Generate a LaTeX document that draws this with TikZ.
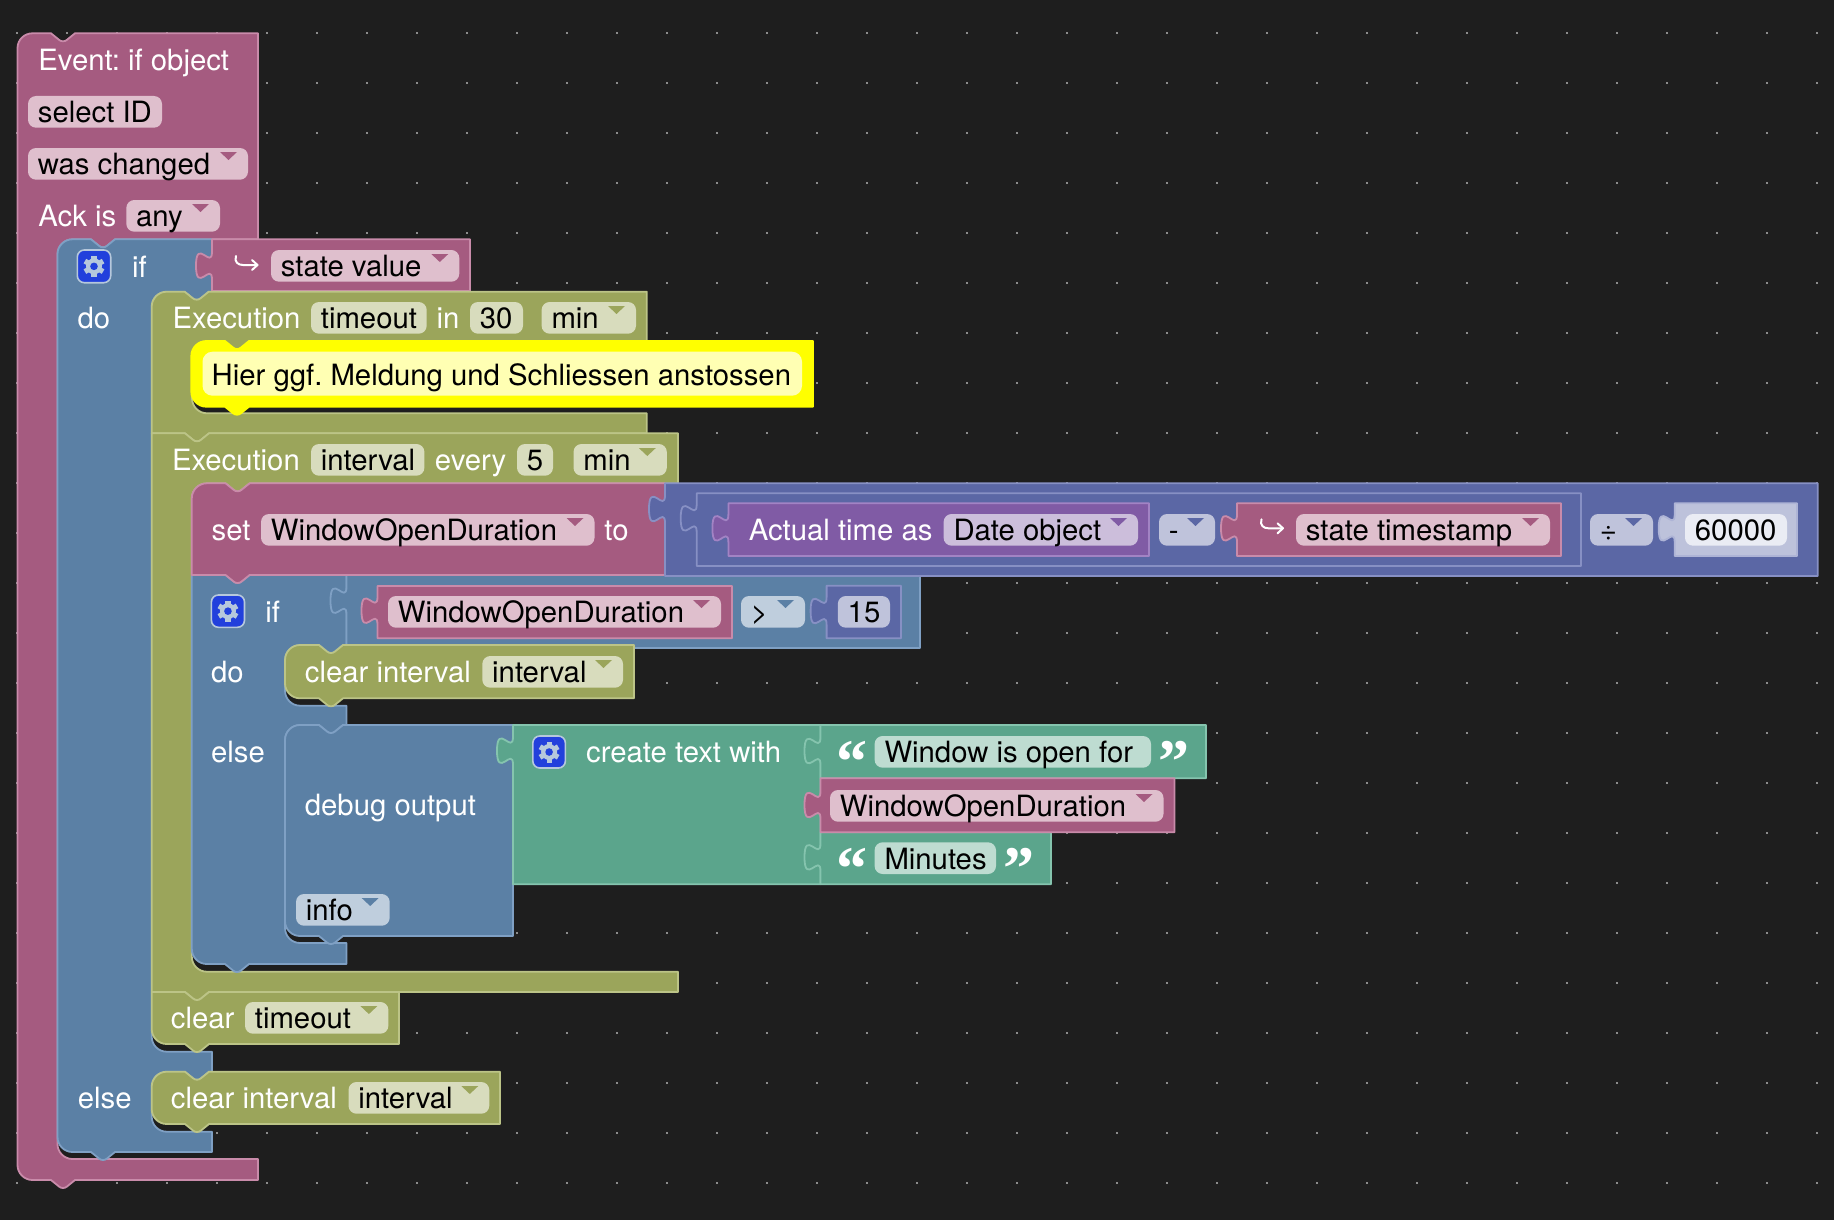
\documentclass[tikz,border=0pt]{standalone}
\usepackage{fontspec}
\setmainfont{TeX Gyre Heros}
\newfontfamily\quotefont{Liberation Serif}
\definecolor{bg}{HTML}{1E1E1E}
\definecolor{dotc}{HTML}{8C8C8C}
\definecolor{pinkf}{HTML}{A55B80}
\definecolor{pinkb}{HTML}{C98BAA}
\definecolor{bluef}{HTML}{5B80A5}
\definecolor{blueb}{HTML}{7FA0C4}
\definecolor{olivef}{HTML}{9BA55B}
\definecolor{oliveb}{HTML}{BCC487}
\definecolor{purpf}{HTML}{805BA5}
\definecolor{purpb}{HTML}{A283C4}
\definecolor{indf}{HTML}{5B67A5}
\definecolor{indb}{HTML}{8790C4}
\definecolor{greenf}{HTML}{5BA58C}
\definecolor{greenb}{HTML}{85C4AE}
\definecolor{pinkl}{HTML}{DFBFCD}
\definecolor{olivel}{HTML}{D8DCBD}
\definecolor{bluel}{HTML}{BFCEDD}
\definecolor{purpl}{HTML}{CCBEDB}
\definecolor{indl}{HTML}{BFC3DB}
\definecolor{greenl}{HTML}{BEDCD1}
\definecolor{numf}{HTML}{BDC2DB}
\definecolor{numb}{HTML}{AEB4D6}
\definecolor{numl}{HTML}{EAECF4}
\definecolor{yel}{HTML}{FFFF00}
\definecolor{yell}{HTML}{FFFFB3}
\definecolor{mutf}{HTML}{2240DC}
\definecolor{mutg}{HTML}{B6C8DC}
\tikzset{
  blk/.style={line width=0.9pt,line join=round},
  blkpink/.style={blk,fill=pinkf,draw=pinkb},
  blkblue/.style={blk,fill=bluef,draw=blueb},
  blkolive/.style={blk,fill=olivef,draw=oliveb},
  blkpurp/.style={blk,fill=purpf,draw=purpb},
  blkind/.style={blk,fill=indf,draw=indb},
  blkgreen/.style={blk,fill=greenf,draw=greenb},
  blknum/.style={blk,fill=numf,draw=numb},
  blkyel/.style={line width=0.9pt,line join=round,fill=yel,draw=yel},
  lbl/.style={anchor=base west,inner sep=0pt,text=white,xshift=-0.5pt,yshift=-0.5pt,font=\frenchspacing\fontsize{14.65}{17}\selectfont},
  fldtxt/.style={lbl,text=black},
  qmark/.style={inner sep=0pt,text=white,font=\quotefont\bfseries\fontsize{31}{31}\selectfont},
  mutbox/.style={fill=mutf,draw=mutg,line width=0.8pt,rounded corners=3.5pt},
  icon/.style={draw=white,line width=1pt,line cap=round,line join=round}
}
% path pieces
\newcommand\crn[6]{-- (#1,#2) .. controls ({#1+.55*(#3-#1)},{#2+.55*(#4-#2)}) and ({#5+.55*(#3-#5)},{#6+.55*(#4-#6)}) .. (#5,#6)}
\newcommand\ntop[2]{-- (#1,#2) -- ({#1+3},#2) -- ({#1+11},{#2+6.5}) .. controls ({#1+13},{#2+8.5}) and ({#1+17},{#2+8.5}) .. ({#1+19},{#2+6.5}) -- ({#1+27},#2) -- ({#1+30},#2)}
\newcommand\nbot[2]{-- ({#1+30},#2) -- ({#1+27},#2) -- ({#1+19},{#2+6.5}) .. controls ({#1+17},{#2+8.5}) and ({#1+13},{#2+8.5}) .. ({#1+11},{#2+6.5}) -- ({#1+3},#2) -- (#1,#2)}
\newcommand\tabu[2]{-- (#1,{#2+28}) .. controls (#1,{#2+9.3}) and ({#1-16},{#2+42.9}) .. ({#1-16},{#2+14}) .. controls ({#1-16},{#2-14.9}) and (#1,{#2+18.7}) .. (#1,#2)}
\newcommand\rblock[6]{\draw[#1] (#2,#4) -- (#3,#4) -- (#3,#5) -- (#2,#5) \tabu{#2}{#6} -- cycle;}
% text pieces
\newcommand\lab[4]{\node[lbl] (#1) at (#2,#3) {#4};}
\newcommand\fld[6]{\fill[#5,rounded corners=4pt] (#2,#4) rectangle (#3,{#4+31.7});
  \node[fldtxt] (#1) at ({#2+10.5},{#4+25.7}) {#6};}
\newcommand\fldd[7]{\fld{#1}{#2}{#3}{#4}{#5}{#6}
  \fill[#7,line join=round] ({#3-28},{#4+4}) -- ({#3-11},{#4+4}) -- ({#3-19.5},{#4+12}) -- cycle;}
\newcommand\gearbox[4]{\draw[mutbox] (#1,#2) rectangle (#3,#4);
  \begin{scope}[shift={({(#1+#3)/2},{(#2+#4)/2})}]
  \fill[mutg] (0,0) circle[radius=4pt];
  \foreach \a in {30,90,150,210,270,330}{\draw[mutg,line width=2.6pt] (0,0) -- (\a:10.5);}
  \fill[mutf] (0,0) circle[radius=1.9pt];
  \end{scope}}
\newcommand\arrico[2]{\begin{scope}[shift={(#1,#2)}]
  \draw[icon] (1,3) .. controls (-1,9) and (3,12) .. (8,12) -- (22,12);
  \draw[icon] (17,7) -- (22.5,12) -- (17,17);
  \end{scope}}
\begin{document}
\begin{tikzpicture}[x=0.5pt,y=-0.5pt]
\useasboundingbox (0,0) rectangle (1834,1220);
\fill[bg] (0,0) rectangle (1834,1220);
\foreach \i in {0,...,36}{\foreach \j in {0,...,23}{
  \fill[dotc] ({15.7+50*\i},{31.7+50*\j}) rectangle ({17.7+50*\i},{33.7+50*\j});}}

% ---- event block
\draw[blkpink] (17.5,48) \crn{17.5}{48}{17.5}{33.3}{32.5}{33.3} \ntop{48}{33.3} -- (258,33.3) -- (258,239.3)
  \nbot{88}{239.3} \crn{72.5}{239.3}{57.5}{239.3}{57.5}{254} \crn{57.5}{1144}{57.5}{1159}{72.5}{1159}
  -- (258,1159) -- (258,1180) \nbot{48}{1180} \crn{32.5}{1180}{17.5}{1180}{17.5}{1165} -- cycle;
\lab{t1}{39}{70}{Event: if object}
\fld{f1}{28}{162}{96}{pinkl}{select ID}
\fldd{f2}{28}{248}{148}{pinkl}{was changed}{pinkf}
\lab{t2}{39}{225.7}{Ack is}
\fldd{f3}{126.3}{220}{200}{pinkl}{any}{pinkf}

% ---- outer if
\draw[blkblue] (57.5,254) \crn{57.5}{254}{57.5}{239.3}{72.5}{239.3} \ntop{88}{239.3} -- (212,239.3) -- (212,291.7)
  \nbot{181.7}{291.7} \crn{166.7}{291.7}{151.7}{291.7}{151.7}{306.7} \crn{151.7}{1036.7}{151.7}{1051.7}{166.7}{1051.7}
  -- (212,1051.7) -- (212,1071.7) \nbot{182}{1071.7} \crn{166.7}{1071.7}{151.7}{1071.7}{151.7}{1086.7}
  \crn{151.7}{1116.7}{151.7}{1131.7}{166.7}{1131.7} -- (212,1131.7) -- (212,1152) \nbot{88}{1152}
  \crn{72.5}{1152}{57.5}{1152}{57.5}{1137} -- cycle;
\gearbox{77.3}{250}{110.7}{282.7}
\lab{t3}{132.7}{276.7}{if}
\lab{t4}{78.3}{327.3}{do}
\lab{t5}{78.5}{1107}{else}
\rblock{blkpink}{212}{470}{239.3}{291}{251.7}
\arrico{235}{253}
\fldd{f4}{271}{459.3}{250}{pinkl}{state value}{pinkf}

% ---- execution timeout
\draw[blkolive] (151.7,306.7) \crn{151.7}{306.7}{151.7}{291.7}{166.7}{291.7} \ntop{181.7}{291.7} -- (646.8,291.7) -- (646.8,341.5)
  \nbot{222}{341.5} \crn{207}{341.5}{192}{341.5}{192}{356.5} \crn{192}{398.3}{192}{413.3}{207}{413.3}
  -- (646.8,413.3) -- (646.8,433.3) \nbot{182}{433.3} -- (151.7,433.3) -- cycle;
\lab{t6}{173.3}{327}{Execution}
\fld{f5}{311}{426.7}{302}{olivel}{timeout}
\lab{t7}{437.3}{327}{in}
\fld{f6}{470}{523}{302}{olivel}{30}
\fldd{f7}{541.6}{636}{302}{olivel}{min}{olivef}

% ---- comment
\draw[blkyel] (191.3,356) \crn{191.3}{356}{191.3}{341}{206.3}{341} \ntop{222}{341} -- (813,341) -- (813,406.7)
  \nbot{222}{406.7} \crn{206.3}{406.7}{191.3}{406.7}{191.3}{391.7} -- cycle;
\fill[yell,rounded corners=5pt] (202.5,351.7) rectangle (802,395.7);
\node[fldtxt] (t8) at (212.3,384) {Hier ggf. Meldung und Schliessen anstossen};

% ---- execution interval
\draw[blkolive] (151.7,433.3) \ntop{182}{433.3} -- (678,433.3) -- (678,483.3)
  \nbot{222.6}{483.3} \crn{206.8}{483.3}{191.8}{483.3}{191.8}{498.3} \crn{191.8}{956.7}{191.8}{971.7}{206.8}{971.7}
  -- (678,971.7) -- (678,992) \nbot{182}{992} -- (151.7,992) -- cycle;
\lab{t9}{172.6}{469.5}{Execution}
\fld{f8}{311}{424.4}{444}{olivel}{interval}
\lab{t10}{435.5}{469.5}{every}
\fld{f9}{517}{553}{444}{olivel}{5}
\fldd{f10}{573.5}{666.8}{444}{olivel}{min}{olivef}

% ---- inner if (drawn first, set block sits on it)
\draw[blkblue] (191.8,575) \ntop{222.6}{575} -- (346.5,575) -- (346.5,645) \nbot{316}{645}
  \crn{300}{645}{285}{645}{285}{660} \crn{285}{690.7}{285}{705.7}{300}{705.7} -- (346.5,705.7) -- (346.5,725)
  \nbot{316}{725} \crn{300}{725}{285}{725}{285}{740} \crn{285}{928}{285}{943}{300}{943} -- (346.5,943) -- (346.5,964)
  \nbot{222}{964} \crn{206.8}{964}{191.8}{964}{191.8}{949} -- cycle;
\gearbox{211.4}{595}{244.5}{627.3}
\lab{t11}{266}{621.7}{if}
\lab{t12}{211.8}{681.7}{do}
\lab{t13}{211.8}{761.7}{else}
\rblock{blkblue}{346.5}{920}{575}{648}{586.7}
\rblock{blkpink}{377.5}{732}{586}{638.3}{596.7}
\fldd{f11}{388}{721}{596}{pinkl}{WindowOpenDuration}{pinkf}
\fldd{f12}{741}{805}{596}{bluel}{>}{bluef}
\rblock{blkind}{826.6}{901}{585.7}{638.3}{597}
\fld{f13}{837.8}{890}{596}{indl}{15}

% ---- set block and math
\draw[blkpink] (191.8,498.3) \crn{191.8}{498.3}{191.8}{483.3}{206.8}{483.3} \ntop{222.6}{483.3} -- (665,483.3) -- (665,575)
  \nbot{222.6}{575} -- (191.8,575) -- cycle;
\lab{t14}{212.3}{539.5}{set}
\fldd{f14}{261}{594.5}{514}{pinkl}{WindowOpenDuration}{pinkf}
\lab{t15}{605}{539.5}{to}
\rblock{blkind}{665}{1817.7}{483.3}{576}{495}
\rblock{blkind}{696.7}{1581}{493.3}{566}{504.3}
\rblock{blkpurp}{728.4}{1149}{503.3}{556}{514.3}
\lab{t16}{749.4}{539.5}{Actual time as}
\fldd{f15}{943.6}{1138}{514}{purpl}{Date object}{purpf}
\fldd{f16}{1159}{1215}{514}{indl}{-}{indf}
\rblock{blkpink}{1237}{1561}{503.3}{556}{514.3}
\arrico{1260.5}{516.3}
\fldd{f17}{1296}{1550}{514}{pinkl}{state timestamp}{pinkf}
\fldd{f18}{1590}{1653}{514}{indl}{÷}{indf}
\rblock{blknum}{1674.7}{1797}{503.3}{556}{514.3}
\fld{f19}{1685}{1787}{514}{numl}{60000}

% ---- clear interval (do)
\draw[blkolive] (285,660) \crn{285}{660}{285}{645}{300}{645} \ntop{316}{645} -- (634,645) -- (634,698.3)
  \nbot{316}{698.3} \crn{300}{698.3}{285}{698.3}{285}{683.3} -- cycle;
\lab{t17}{305.5}{681.7}{clear interval}
\fldd{f20}{482.3}{623}{656}{olivel}{interval}{olivef}

% ---- debug output
\draw[blkblue] (285,740) \crn{285}{740}{285}{725}{300}{725} \ntop{316}{725} -- (513,725) -- (513,936)
  \nbot{316}{936} \crn{300}{936}{285}{936}{285}{921} -- cycle;
\lab{t18}{305.5}{814}{debug output}
\fldd{f21}{296}{389.7}{894}{bluel}{info}{bluef}

% ---- create text
\rblock{blkgreen}{513}{820.5}{725}{884.3}{736.7}
\gearbox{532.8}{736}{565.4}{768}
\lab{t19}{586.8}{761.7}{create text with}
\rblock{blkgreen}{820.5}{1206}{725}{778.3}{737}
\node[qmark] (q1) at (852,762) {“};
\fld{f22}{874.6}{1151}{736}{greenl}{Window is open for}
\node[qmark] (q2) at (1173.5,762) {”};
\rblock{blkgreen}{820.5}{1051}{832.3}{884.3}{843.3}
\node[qmark] (q3) at (852,869) {“};
\fld{f23}{874.6}{996}{842.3}{greenl}{Minutes}
\node[qmark] (q4) at (1018.5,869) {”};
\rblock{blkpink}{820.5}{1174.5}{778.3}{832.3}{791}
\fldd{f24}{830}{1163.5}{790}{pinkl}{WindowOpenDuration}{pinkf}

% ---- clear timeout
\draw[blkolive] (151.7,992) \ntop{182}{992} -- (399,992) -- (399,1044) \nbot{182}{1044}
  \crn{166.7}{1044}{151.7}{1044}{151.7}{1029} -- cycle;
\lab{t20}{171.5}{1027}{clear}
\fldd{f25}{245}{388.4}{1002}{olivel}{timeout}{olivef}

% ---- clear interval (else)
\draw[blkolive] (151.7,1086.7) \crn{151.7}{1086.7}{151.7}{1071.7}{166.7}{1071.7} \ntop{182}{1071.7} -- (500,1071.7) -- (500,1124)
  \nbot{182}{1124} \crn{166.7}{1124}{151.7}{1124}{151.7}{1109} -- cycle;
\lab{t21}{171.5}{1107}{clear interval}
\fldd{f26}{348.5}{489.3}{1082}{olivel}{interval}{olivef}
\end{tikzpicture}
\end{document}
